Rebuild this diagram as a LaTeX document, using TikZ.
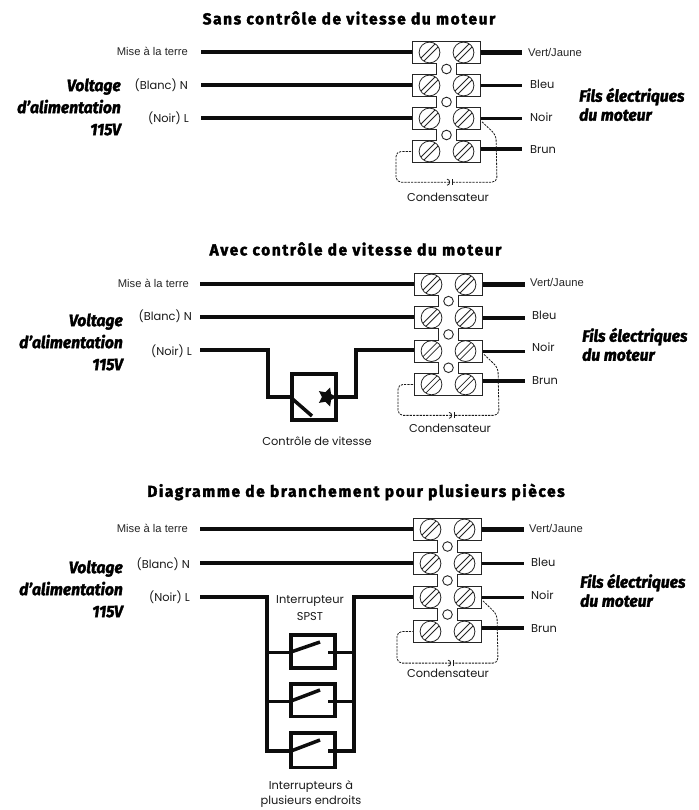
\documentclass[tikz,border=0pt]{standalone}
\usepackage{fontspec}
\setmainfont{Liberation Sans}
\newfontfamily\geo{Poppins}
\newfontfamily\ttl{Fira Sans}[BoldFeatures={FakeBold=2.2,LetterSpace=10,FakeStretch=0.98}]
\newfontfamily\slant{Fira Sans}[ItalicFeatures={FakeBold=1.6,FakeStretch=0.95},BoldItalicFeatures={FakeBold=2,FakeStretch=0.95}]
\usetikzlibrary{shapes.geometric,calc}
\tikzset{
  wire/.style={line width=3.9pt,black!95},
  thinwire/.style={line width=3pt,black!95},
  blockline/.style={draw=black!85,line width=1pt,fill=white},
  screw/.style={draw=black!85,line width=0.8pt},
  capwire/.style={draw=black!90,line width=0.8pt,dash pattern=on 2.2pt off 1.1pt,rounded corners=5pt},
  ttlstyle/.style={font=\ttl\fontsize{15.8}{18}\selectfont\bfseries,inner sep=0pt,text=black},
  sidestyle/.style={font=\slant\fontsize{16.5}{22}\selectfont\bfseries\itshape,inner sep=0pt,text=black,align=right},
  fstyle/.style={font=\slant\fontsize{16.5}{19}\selectfont\bfseries\itshape,inner sep=0pt,text=black,align=left},
  arial/.style={font=\fontsize{11.2}{12}\selectfont,inner sep=0pt,text=black!85},
  geolab/.style={font=\geo\fontsize{11.4}{14.5}\selectfont,inner sep=0pt,text=black!90,align=center},
  switchbox/.style={draw=black!95,line width=3.5pt,fill=white},
}
% #1 prefix, #2 left x, #3 y of row 1, #4 row spacing, #5 y of Brun wire, #6 x end of right wires
\newcommand{\termblock}[6]{
  \begin{scope}[shift={(#2,#3)}]
    \foreach \r/\k in {1/0,2/1,3/2,4/3}{
      \pgfmathsetmacro{\yy}{\k*#4}
      \draw[blockline] (0,\yy-11) rectangle (68.5,\yy+11);
      \foreach \sx in {17.5,51.5}{
        \draw[screw] (\sx,\yy) circle (10.4);
        \begin{scope}
          \clip (\sx,\yy) circle (10.4);
          \draw[screw] (\sx-12,\yy+9) -- (\sx+9,\yy-12);
          \draw[screw] (\sx-9,\yy+12) -- (\sx+12,\yy-9);
        \end{scope}
      }
      \coordinate (#1L\r) at (0,\yy);
      \coordinate (#1R\r) at (68.5,\yy);
    }
    \foreach \k in {0,1,2}{
      \pgfmathsetmacro{\ya}{\k*#4+11}
      \pgfmathsetmacro{\yb}{(\k+1)*#4-11}
      \pgfmathsetmacro{\yc}{(\k+0.5)*#4}
      \fill[white] (24.5,\ya-1) rectangle (44,\yb+1);
      \draw[black!85,line width=1pt] (24.5,\ya) -- (24.5,\yb) (44,\ya) -- (44,\yb);
      \draw[black!85,line width=0.9pt] (34.5,\yc) circle (4.8);
    }
    \coordinate (#1Ca) at (70,{2.1*#4});
    \coordinate (#1Cb) at (84,{2.5*#4});
    \coordinate (#1Cc) at (85,{3.93*#4});
    \coordinate (#1Cd) at (40,{3.93*#4});
    \coordinate (#1Ce) at (37.5,{3.93*#4});
    \coordinate (#1Cf) at (-16,{3.93*#4});
    \coordinate (#1Cg) at (-16,{3*#4});
  \end{scope}
  \coordinate (#1E1) at (#6,#3);
  \draw[line width=4.2pt,black!95] (#1R1) -- (#1E1);
  \draw[wire] (#1R2) -- (#1R2 -| #1E1);
  \draw[thinwire] (#1R3) -- (#1R3 -| #1E1);
  \coordinate (#1B) at (#2+68.5,#5);
  \draw[wire] (#1B) -- (#1B -| #1E1);
  \draw[capwire] (#1Ca) -- (#1Cb) -- (#1Cc) -- (#1Cd);
  \draw[capwire] (#1Ce) -- (#1Cf) -- (#1Cg) -- (#1L4);
  \draw[black!90,line width=0.8pt] ($(#1Cd)+(0,-3)$) -- ($(#1Cd)+(0,3)$);
  \draw[black!90,line width=0.8pt] ($(#1Ce)+(-2.5,-3)$) .. controls ($(#1Ce)+(1,-3)$) and ($(#1Ce)+(1,3)$) .. ($(#1Ce)+(-2.5,3)$);
}
\begin{document}
\begin{tikzpicture}[x=1pt,y=-1pt]
\useasboundingbox (0,0) rectangle (698,810);
\fill[white] (0,0) rectangle (698,810);

% titles
\node[ttlstyle] (t1) at (349,18) {Sans contrôle de vitesse du moteur};
\node[ttlstyle] (t2) at (355.5,249) {Avec contrôle de vitesse du moteur};
\node[ttlstyle] (t3) at (356,492) {Diagramme de branchement pour plusieurs pièces};

% section 1
\termblock{a}{412}{52.5}{33}{149}{522}
\node[arial,anchor=east] (a1) at (188,51.5) {Mise à la terre};
\node[geolab,anchor=east] (a2) at (188,85) {(Blanc) N};
\node[geolab,anchor=east] (a3) at (189,118) {(Noir) L};
\coordinate (as1) at (201,52); \coordinate (as2) at (201,85); \coordinate (as3) at (201,118);
\draw[wire] (as1) -- (as1 -| aL1);
\draw[wire] (as2) -- (as2 -| aL1);
\draw[wire] (as3) -- (as3 -| aL1);
\node[arial,anchor=west] (a4) at (528,52) {Vert/Jaune};
\node[geolab,anchor=west] (a5) at (530,84) {Bleu};
\node[geolab,anchor=west] (a6) at (530,117) {Noir};
\node[geolab,anchor=west] (a7) at (530,150) {Brun};
\node[geolab] (a8) at (448,197) {Condensateur};
\node[sidestyle,anchor=east] (a9) at (121,107) {Voltage\\d’alimentation\\115V};
\node[fstyle,anchor=west] (a10) at (579,104.5) {Fils électriques\\du moteur};

% section 2
\termblock{b}{414}{284.5}{33.3}{381}{525}
\node[arial,anchor=east] (b1) at (189,283) {Mise à la terre};
\node[geolab,anchor=east] (b2) at (192,316) {(Blanc) N};
\node[geolab,anchor=east] (b3) at (192,351) {(Noir) L};
\coordinate (bs1) at (200,284); \coordinate (bs2) at (200,317); \coordinate (bs3) at (200,350);
\draw[wire] (bs1) -- (bs1 -| bL1);
\draw[wire] (bs2) -- (bs2 -| bL1);
\node[arial,anchor=west] (b4) at (530,282) {Vert/Jaune};
\node[geolab,anchor=west] (b5) at (532,315) {Bleu};
\node[geolab,anchor=west] (b6) at (532,347) {Noir};
\node[geolab,anchor=west] (b7) at (532,381) {Brun};
\node[geolab] (b8) at (450,428) {Condensateur};
\node[sidestyle,anchor=east] (b9) at (123,342) {Voltage\\d’alimentation\\115V};
\node[fstyle,anchor=west] (b10) at (582,344.5) {Fils électriques\\du moteur};
\node[switchbox,minimum width=44pt,minimum height=46pt,inner sep=0pt] (spd) at (314,397) {};
\coordinate (spdL) at (spd.west); \coordinate (spdR) at (spd.east);
\draw[wire,line join=miter] (bs3) -- (268,350) -- (268,397) -- (spdL);
\draw[wire,line join=miter] (spdR) -- (356,397) -- (356,350) -- (bs3 -| bL1);
\draw[line width=3.5pt,black!95] (spdL) -- (312,416);
\node[star,star points=5,star point ratio=2,fill=black!95,inner sep=0pt,minimum size=20pt,rotate=-18] (spdS) at (327,397) {};
\node[geolab] (b11) at (317,441) {Contrôle de vitesse};

% section 3
\termblock{c}{413}{529.5}{34}{628}{524}
\node[arial,anchor=east] (c1) at (188,528) {Mise à la terre};
\node[geolab,anchor=east] (c2) at (190,564) {(Blanc) N};
\node[geolab,anchor=east] (c3) at (190,597) {(Noir) L};
\coordinate (cs1) at (200,529); \coordinate (cs2) at (200,563); \coordinate (cs3) at (200,597);
\draw[wire] (cs1) -- (cs1 -| cL1);
\draw[wire] (cs2) -- (cs2 -| cL1);
\node[arial,anchor=west] (c4) at (529,528) {Vert/Jaune};
\node[geolab,anchor=west] (c5) at (531,562) {Bleu};
\node[geolab,anchor=west] (c6) at (531,595) {Noir};
\node[geolab,anchor=west] (c7) at (531,629) {Brun};
\node[geolab] (c8) at (448,673) {Condensateur};
\node[sidestyle,anchor=east] (c9) at (123,589) {Voltage\\d’alimentation\\115V};
\node[fstyle,anchor=west] (c10) at (580,590.5) {Fils électriques\\du moteur};
\node[geolab] (c11) at (310,608.5) {Interrupteur\\[2.5pt]SPST};
\node[geolab] (c12) at (311,794) {Interrupteurs à\\plusieurs endroits};

\coordinate (lv) at (267,597);
\coordinate (rv) at (354,597);
\foreach \n/\yc/\hh/\ym/\yl in {1/651.5/33/652/642, 2/700/32.5/701/690, 3/750/34.5/751/740}{
  \node[switchbox,minimum width=44pt,minimum height=\hh pt,inner sep=0pt] (sw\n) at (313,\yc) {};
  \coordinate (sl\n) at (291,\ym); \coordinate (sm\n) at (320,\yl); \coordinate (sr\n) at (328,\ym);
  \coordinate (wl\n) at (267,\ym); \coordinate (wr\n) at (354,\ym);
  \draw[line width=3.5pt,black!95] (sl\n) -- (sm\n);
}
\draw[wire,line join=miter] (cs3) -- (lv) -- (wl3) -- (sl3);
\draw[wire,line join=miter] (cs3 -| cL1) -- (rv) -- (wr3) -- (sr3);
\draw[wire,line width=3pt] (wl1) -- (sl1);
\draw[wire,line width=3pt] (wl2) -- (sl2);
\draw[wire,line width=3pt] (sr1) -- (wr1);
\draw[wire,line width=3pt] (sr2) -- (wr2);
\end{tikzpicture}
\end{document}
